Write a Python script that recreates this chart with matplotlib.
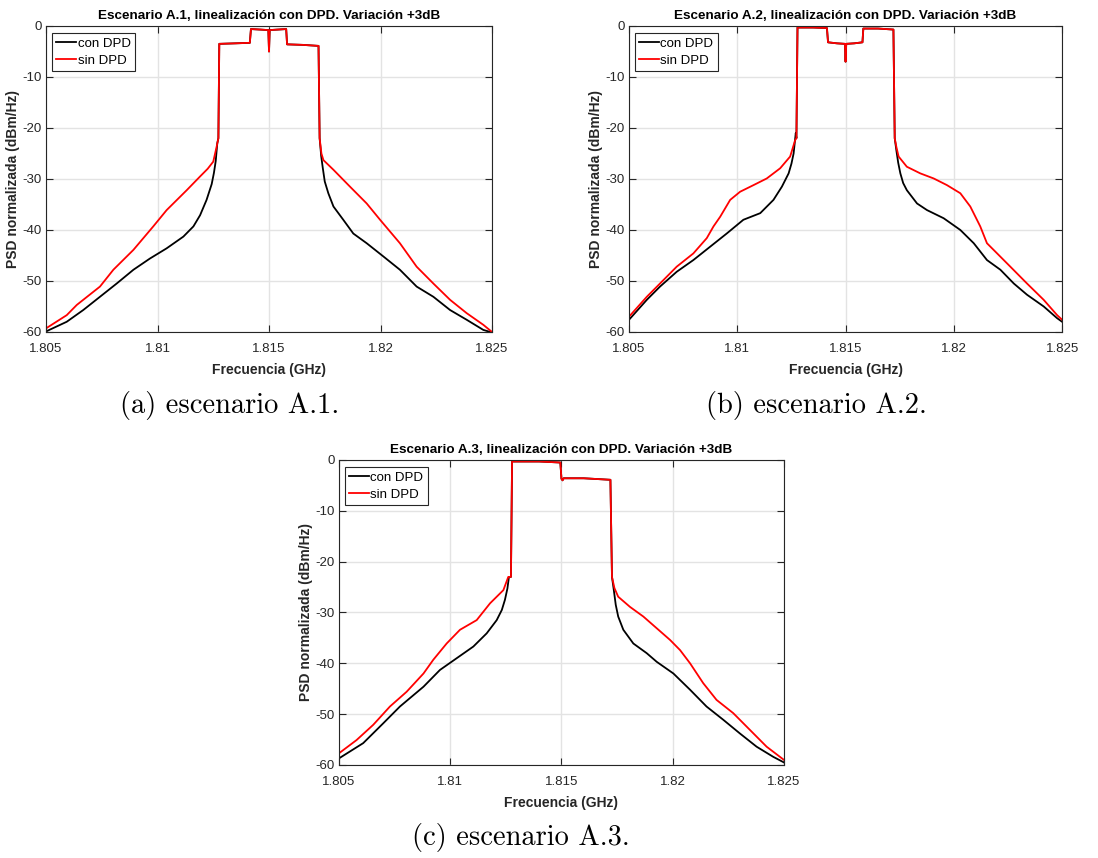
import matplotlib.pyplot as plt
from matplotlib.ticker import FuncFormatter

plt.rcParams['axes.unicode_minus'] = False
narrow = ['Liberation Sans Narrow', 'Liberation Sans', 'DejaVu Sans']
wide = ['Liberation Sans', 'DejaVu Sans']

# ---- escenario A.1 ----
band_a_f = [1.81273, 1.81277, 1.8135, 1.81414, 1.81419, 1.8146, 1.81497, 1.815, 1.81503, 1.8154, 1.81577, 1.81581, 1.8165, 1.81722, 1.81727]
band_a_db = [-22, -3.5, -3.4, -3.3, -0.6, -0.7, -0.8, -5.0, -0.8, -0.7, -0.6, -3.6, -3.7, -3.9, -22]
sin_a_left_f = [1.805, 1.80593, 1.80638, 1.80742, 1.80802, 1.80892, 1.80981, 1.81041, 1.81131, 1.81191, 1.81225, 1.8125, 1.81265]
sin_a_left_db = [-59.3, -56.7, -54.7, -51.1, -47.8, -43.9, -39.3, -36.1, -32.2, -29.5, -28.0, -26.6, -23.7]
sin_a_right_f = [1.81735, 1.81744, 1.81789, 1.81863, 1.81938, 1.81998, 1.82087, 1.82162, 1.82237, 1.82312, 1.82386, 1.82461, 1.825]
sin_a_right_db = [-25.0, -26.3, -28.2, -31.5, -34.8, -38.0, -42.6, -47.2, -50.5, -53.7, -56.3, -58.6, -60.0]
con_a_left_f = [1.805, 1.80593, 1.80667, 1.80742, 1.80817, 1.80892, 1.80966, 1.81041, 1.81116, 1.81161, 1.81191, 1.8122, 1.81243, 1.81253, 1.81261, 1.81268]
con_a_left_db = [-59.9, -58.0, -55.7, -53.1, -50.5, -47.8, -45.6, -43.6, -41.3, -39.3, -37.1, -34.1, -31.0, -28.8, -26.5, -23.0]
con_a_right_f = [1.81734, 1.81741, 1.8175, 1.81766, 1.81789, 1.81833, 1.81878, 1.81938, 1.82013, 1.82087, 1.82162, 1.82237, 1.82312, 1.82386, 1.82461, 1.825]
con_a_right_db = [-25.5, -27.8, -30.5, -32.8, -35.4, -38.0, -40.7, -42.6, -45.2, -47.8, -51.1, -53.1, -55.7, -57.6, -59.6, -60.1]

# ---- escenario A.2 ----
band_b_f = [1.81273, 1.81278, 1.8135, 1.81414, 1.81419, 1.8146, 1.81497, 1.815, 1.81503, 1.8154, 1.81578, 1.81582, 1.8165, 1.81721, 1.81727]
band_b_db = [-22, -0.3, -0.3, -0.4, -3.2, -3.4, -3.5, -7.0, -3.5, -3.4, -3.2, -0.5, -0.5, -0.7, -22]
sin_b_left_f = [1.805, 1.80582, 1.80643, 1.8072, 1.80797, 1.80859, 1.8089, 1.80921, 1.80967, 1.81013, 1.81075, 1.81136, 1.81198, 1.81244, 1.81267]
sin_b_left_db = [-57.0, -53.1, -50.5, -47.2, -44.6, -41.6, -39.3, -37.4, -34.1, -32.5, -31.2, -29.9, -27.9, -25.6, -22.4]
sin_b_right_f = [1.81735, 1.81745, 1.81783, 1.81845, 1.81907, 1.81968, 1.8203, 1.82076, 1.82122, 1.82153, 1.822, 1.82261, 1.82338, 1.82415, 1.82477, 1.825]
sin_b_right_db = [-23.8, -25.6, -27.6, -28.9, -29.9, -31.2, -32.8, -35.4, -39.3, -42.6, -44.6, -47.2, -50.5, -53.7, -56.7, -57.6]
con_b_left_f = [1.805, 1.80582, 1.80643, 1.8072, 1.80797, 1.80874, 1.80951, 1.81028, 1.81106, 1.81167, 1.81206, 1.81237, 1.8125, 1.8126, 1.8127]
con_b_left_db = [-57.6, -53.7, -51.1, -48.2, -45.9, -43.3, -40.7, -38.0, -36.7, -34.1, -31.5, -28.9, -27.0, -25.0, -21.0]
con_b_right_f = [1.81735, 1.81743, 1.81753, 1.81766, 1.81783, 1.8183, 1.81876, 1.81953, 1.8203, 1.82092, 1.82153, 1.82215, 1.82277, 1.82338, 1.82415, 1.82477, 1.825]
con_b_right_db = [-24.5, -26.8, -28.9, -30.8, -32.2, -34.8, -36.1, -37.7, -40.0, -42.6, -45.9, -47.8, -50.5, -52.7, -55.0, -57.3, -58.0]

# ---- escenario A.3 ----
band_c_f = [1.81273, 1.81278, 1.814, 1.81495, 1.815, 1.81505, 1.8151, 1.816, 1.8172, 1.81727]
band_c_db = [-23, -0.3, -0.3, -0.5, -3.7, -4.0, -3.6, -3.6, -3.9, -23]
sin_c_left_f = [1.805, 1.80579, 1.80654, 1.80729, 1.80804, 1.8088, 1.80924, 1.80984, 1.81044, 1.81119, 1.81179, 1.81239, 1.81261]
sin_c_left_db = [-57.7, -55.1, -52.1, -48.5, -45.6, -42.0, -39.3, -36.1, -33.4, -31.5, -28.2, -25.6, -23.0]
sin_c_right_f = [1.81738, 1.81755, 1.81808, 1.81868, 1.81928, 1.81988, 1.82033, 1.82078, 1.82137, 1.82197, 1.82272, 1.82347, 1.82422, 1.825]
sin_c_right_db = [-25.2, -26.9, -28.9, -30.8, -33.1, -35.4, -37.4, -40.0, -43.9, -47.2, -49.8, -53.1, -56.4, -59.0]
con_c_left_f = [1.805, 1.80609, 1.80699, 1.80774, 1.8088, 1.80954, 1.81029, 1.81104, 1.81164, 1.81209, 1.81232, 1.81246, 1.81257, 1.81264]
con_c_left_db = [-58.7, -55.7, -51.8, -48.5, -44.6, -41.3, -39.0, -36.7, -34.1, -31.5, -29.5, -27.5, -25.3, -23.0]
con_c_right_f = [1.81735, 1.81744, 1.81755, 1.81778, 1.81823, 1.81883, 1.81928, 1.82003, 1.82078, 1.82152, 1.82227, 1.82302, 1.82377, 1.82452, 1.825]
con_c_right_db = [-25.5, -28.5, -30.8, -33.4, -36.1, -38.0, -39.7, -42.0, -45.2, -48.5, -51.1, -53.8, -56.4, -58.4, -59.5]

xticks = [1.805, 1.81, 1.815, 1.82, 1.825]
yticks = [-60, -50, -40, -30, -20, -10, 0]


def espectro(ax, titulo, band_f, band_db, con, sin):
    # cada traza = banda lateral izq + banda + banda lateral der
    f_con = con[0] + band_f + con[2]
    p_con = con[1] + band_db + con[3]
    f_sin = sin[0] + band_f + sin[2]
    p_sin = sin[1] + band_db + sin[3]
    ax.plot(f_con, p_con, color='black', linewidth=1.3, label='con DPD')
    ax.plot(f_sin, p_sin, color='red', linewidth=1.3, label='sin DPD')
    ax.set_xlim(1.805, 1.825)
    ax.set_ylim(-60, 0)
    ax.set_xticks(xticks)
    ax.set_yticks(yticks)
    ax.xaxis.set_major_formatter(FuncFormatter(lambda v, p: ('%.3f' % v).rstrip('0')))
    ax.yaxis.set_major_formatter(FuncFormatter(lambda v, p: '%d' % v))
    ax.grid(True, color='#e3e3e3', linewidth=1.0)
    ax.set_axisbelow(True)
    ax.tick_params(direction='in', top=True, right=True, length=5, width=0.8, color='#262626')
    ax.tick_params(axis='x', pad=8)
    ax.tick_params(axis='y', pad=3)
    for lab in ax.get_xticklabels() + ax.get_yticklabels():
        lab.set_family(narrow)
        lab.set_fontsize(9.5)
        lab.set_color('#262626')
    for s in ax.spines.values():
        s.set_color('#262626')
        s.set_linewidth(0.8)
    ax.set_title(titulo, family=narrow, fontweight='bold', fontsize=9.7, pad=5)
    ax.set_xlabel('Frecuencia (GHz)', family=narrow, fontweight='bold', fontsize=10, labelpad=6, color='#262626')
    ax.set_ylabel('PSD normalizada (dBm/Hz)', family=wide, fontweight='bold', fontsize=10, labelpad=2, color='#262626')
    leg = ax.legend(loc='upper left', bbox_to_anchor=(0.013, 0.977), borderaxespad=0,
                    prop={'family': narrow, 'size': 9.5}, fancybox=False, framealpha=1,
                    edgecolor='#262626', handlelength=1.5, handletextpad=0.1,
                    borderpad=0.35, labelspacing=0.35)
    leg.get_frame().set_linewidth(0.8)


fig = plt.figure(figsize=(10.98, 8.58), dpi=100)
ax1 = fig.add_axes([0.0419, 0.6131, 0.4062, 0.3566])
ax2 = fig.add_axes([0.5729, 0.6131, 0.3944, 0.3566])
ax3 = fig.add_axes([0.3087, 0.1084, 0.4053, 0.3555])

espectro(ax1, 'Escenario A.1, linealización con DPD. Variación +3dB', band_a_f, band_a_db,
         (con_a_left_f, con_a_left_db, con_a_right_f, con_a_right_db),
         (sin_a_left_f, sin_a_left_db, sin_a_right_f, sin_a_right_db))
espectro(ax2, 'Escenario A.2, linealización con DPD. Variación +3dB', band_b_f, band_b_db,
         (con_b_left_f, con_b_left_db, con_b_right_f, con_b_right_db),
         (sin_b_left_f, sin_b_left_db, sin_b_right_f, sin_b_right_db))
espectro(ax3, 'Escenario A.3, linealización con DPD. Variación +3dB', band_c_f, band_c_db,
         (con_c_left_f, con_c_left_db, con_c_right_f, con_c_right_db),
         (sin_c_left_f, sin_c_left_db, sin_c_right_f, sin_c_right_db))

# pies de figura
fig.text(230 / 1098, 1 - 405 / 858, '(a) escenario A.1.', family='cmr10', fontsize=20.5, ha='center', va='center')
fig.text(816 / 1098, 1 - 405 / 858, '(b) escenario A.2.', family='cmr10', fontsize=20.5, ha='center', va='center')
fig.text(521 / 1098, 1 - 838 / 858, '(c) escenario A.3.', family='cmr10', fontsize=20.5, ha='center', va='center')

plt.savefig('out.png', dpi=100)
